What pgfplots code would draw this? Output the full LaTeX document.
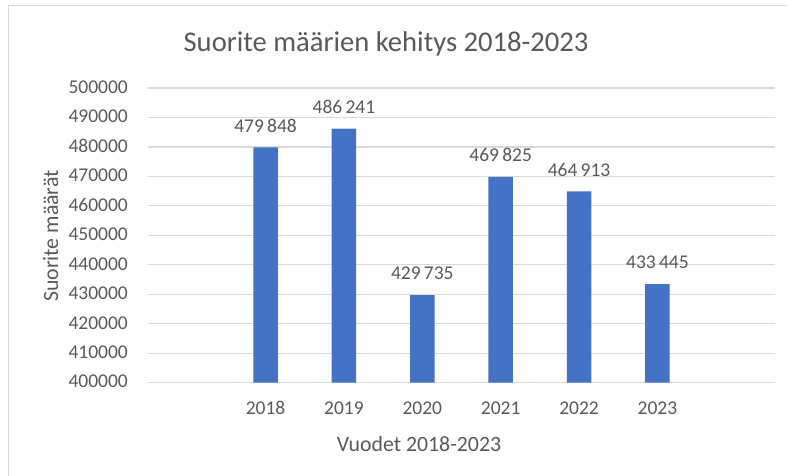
\documentclass[border=0pt]{standalone}
\usepackage{pgfplots}
\pgfplotsset{compat=1.18}
\usepackage{fontspec}
\setmainfont{Carlito}
\definecolor{barc}{HTML}{4472C4}
\definecolor{gridc}{HTML}{D9D9D9}
\definecolor{txt}{HTML}{595959}
\begin{document}
\begin{tikzpicture}
\useasboundingbox (0bp,0bp) rectangle (787bp,476bp);
\draw[gridc, line width=1.5bp] (8.3bp,0bp) -- (8.3bp,470.3bp) -- (787bp,470.3bp);
\begin{axis}[
  at={(148bp,93.3bp)}, anchor=south west,
  scale only axis, width=627bp, height=294.7bp,
  xmin=-1.5, xmax=6.5, ymin=400000, ymax=500000,
  axis line style={draw=none},
  ymajorgrids, major grid style={gridc, line width=1.2bp},
  major tick length=0pt, tick style={draw=none},
  ytick distance=10000,
  scaled y ticks=false,
  /pgf/number format/.cd, fixed, 1000 sep={}, assume math mode=true, /pgfplots/.cd,
  yticklabel style={font=\fontsize{19.5bp}{22bp}\selectfont, text=txt, anchor=base east, inner sep=0pt, xshift=-20bp, yshift=-5.3bp},
  xtick={0,1,2,3,4,5},
  xticklabels={2018,2019,2020,2021,2022,2023},
  xticklabel style={font=\fontsize{19.5bp}{22bp}\selectfont, text=txt, anchor=base, inner sep=0pt, yshift=-32.3bp},
  ybar, bar width=24.5bp,
  nodes near coords, point meta=explicit symbolic,
  nodes near coords style={font=\fontsize{19.5bp}{22bp}\selectfont, text=txt, anchor=base, inner sep=0pt, yshift=15.3bp},
]
\addplot[fill=barc, draw=none] coordinates {
  (0,479848) [479\,848]
  (1,486241) [486\,241]
  (2,429735) [429\,735]
  (3,469825) [469\,825]
  (4,464913) [464\,913]
  (5,433445) [433\,445]
};
\end{axis}
\node[anchor=base, text=txt, font=\fontsize{28.6bp}{32bp}\selectfont] at (386bp,424bp) {Suorite määrien kehitys 2018-2023};
\node[anchor=base, text=txt, font=\fontsize{21.8bp}{25bp}\selectfont] at (419bp,24.3bp) {Vuodet 2018-2023};
\node[anchor=base, rotate=90, text=txt, font=\fontsize{21.8bp}{25bp}\selectfont] at (58bp,240bp) {Suorite määrät};
\end{tikzpicture}
\end{document}
